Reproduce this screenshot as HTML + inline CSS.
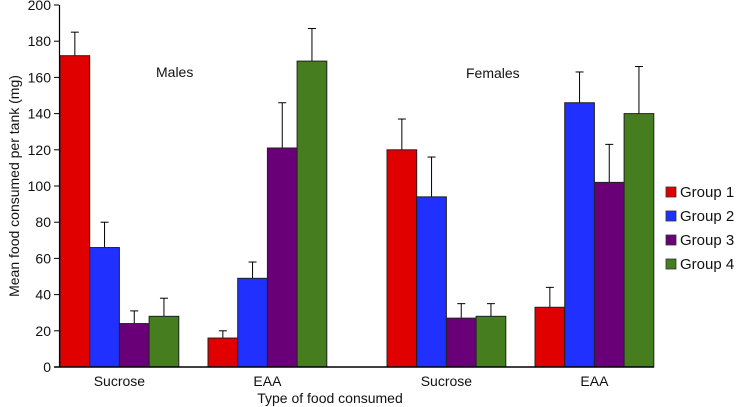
<!DOCTYPE html>
<html><head><meta charset="utf-8"><style>
body{margin:0;background:#fff}
svg{display:block;font-family:"Liberation Sans",sans-serif}
</style></head><body>
<svg id="c" width="738" height="407"></svg>
<script>
const categories=["Sucrose","EAA","Sucrose","EAA"];
const groups=["Group 1","Group 2","Group 3","Group 4"];
const g1=[172,16,120,33];
const g2=[66,49,94,146];
const g3=[24,121,27,102];
const g4=[28,169,28,140];
const e1=[13,4,17,11];
const e2=[14,9,22,17];
const e3=[7,25,8,21];
const e4=[10,18,7,26];
const yTicks=[0,20,40,60,80,100,120,140,160,180,200];
const colors=["#e00000","#1f30ff","#6a0078","#457d1f"];
const series=[g1,g2,g3,g4], errs=[e1,e2,e3,e4];
const NS="http://www.w3.org/2000/svg", svg=document.getElementById('c');
function el(t,a,txt){const e=document.createElementNS(NS,t);for(const k in a)e.setAttribute(k,a[k]);if(txt!=null)e.textContent=txt;svg.appendChild(e);return e;}
const y0=367,y1=5,yMax=200;
const y=v=>y0-(v/yMax)*(y0-y1);
const catStart=[60,208,387,535], bw=29.7;
const x=(c,s)=>catStart[c]+s*bw;
yTicks.forEach(t=>{
 const l=el('line',{x1:54,x2:59,y1:y(t),y2:y(t),stroke:'#000','stroke-width':1});
 
 
 const tx=el('text',{x:51,y:y(t)+5,'text-anchor':'end','font-size':14,fill:'#111'},t);
 
 
});
categories.forEach((c,ci)=>{
 series.forEach((s,si)=>{
  const v=s[ci],e=errs[si][ci],bx=x(ci,si),cx=bx+bw/2;
  const el1=el('line',{x1:cx,x2:cx,y1:y(v),y2:y(v+e),stroke:'#000','stroke-width':1});
  
  
  const cap=el('line',{x1:cx-4,x2:cx+4,y1:y(v+e),y2:y(v+e),stroke:'#000','stroke-width':1});
  
  
  const r=el('rect',{x:bx,y:y(v),width:bw,height:y0-y(v),fill:colors[si],stroke:'#222','stroke-width':1});
  
  
 });
 const lb=el('text',{x:catStart[ci]+2*bw,y:386,'text-anchor':'middle','font-size':14,fill:'#111'},c);
 
 
});
const ya=el('line',{x1:59.5,x2:59.5,y1:5,y2:367,stroke:'#000','stroke-width':1.2});


const xa=el('line',{x1:54,x2:654,y1:367,y2:367,stroke:'#000','stroke-width':1.5});


const m=el('text',{x:156,y:77,'font-size':14,fill:'#111'},'Males');


const f=el('text',{x:466,y:78,'font-size':14,fill:'#111'},'Females');


const xt=el('text',{x:330,y:403,'text-anchor':'middle','font-size':14,fill:'#111'},'Type of food consumed');


const yt=el('text',{x:0,y:0,'text-anchor':'middle','font-size':14,fill:'#111',transform:'translate(19,186) rotate(-90)'},'Mean food consumed per tank (mg)');


groups.forEach((g,i)=>{
 const ly=187+i*24;
 const sq=el('rect',{x:666,y:ly,width:10,height:10,fill:colors[i],stroke:'#333','stroke-width':0.8});
 
 
 const t=el('text',{x:680,y:ly+10,'font-size':15,fill:'#111'},g);
 
 
});
</script>
</body></html>
